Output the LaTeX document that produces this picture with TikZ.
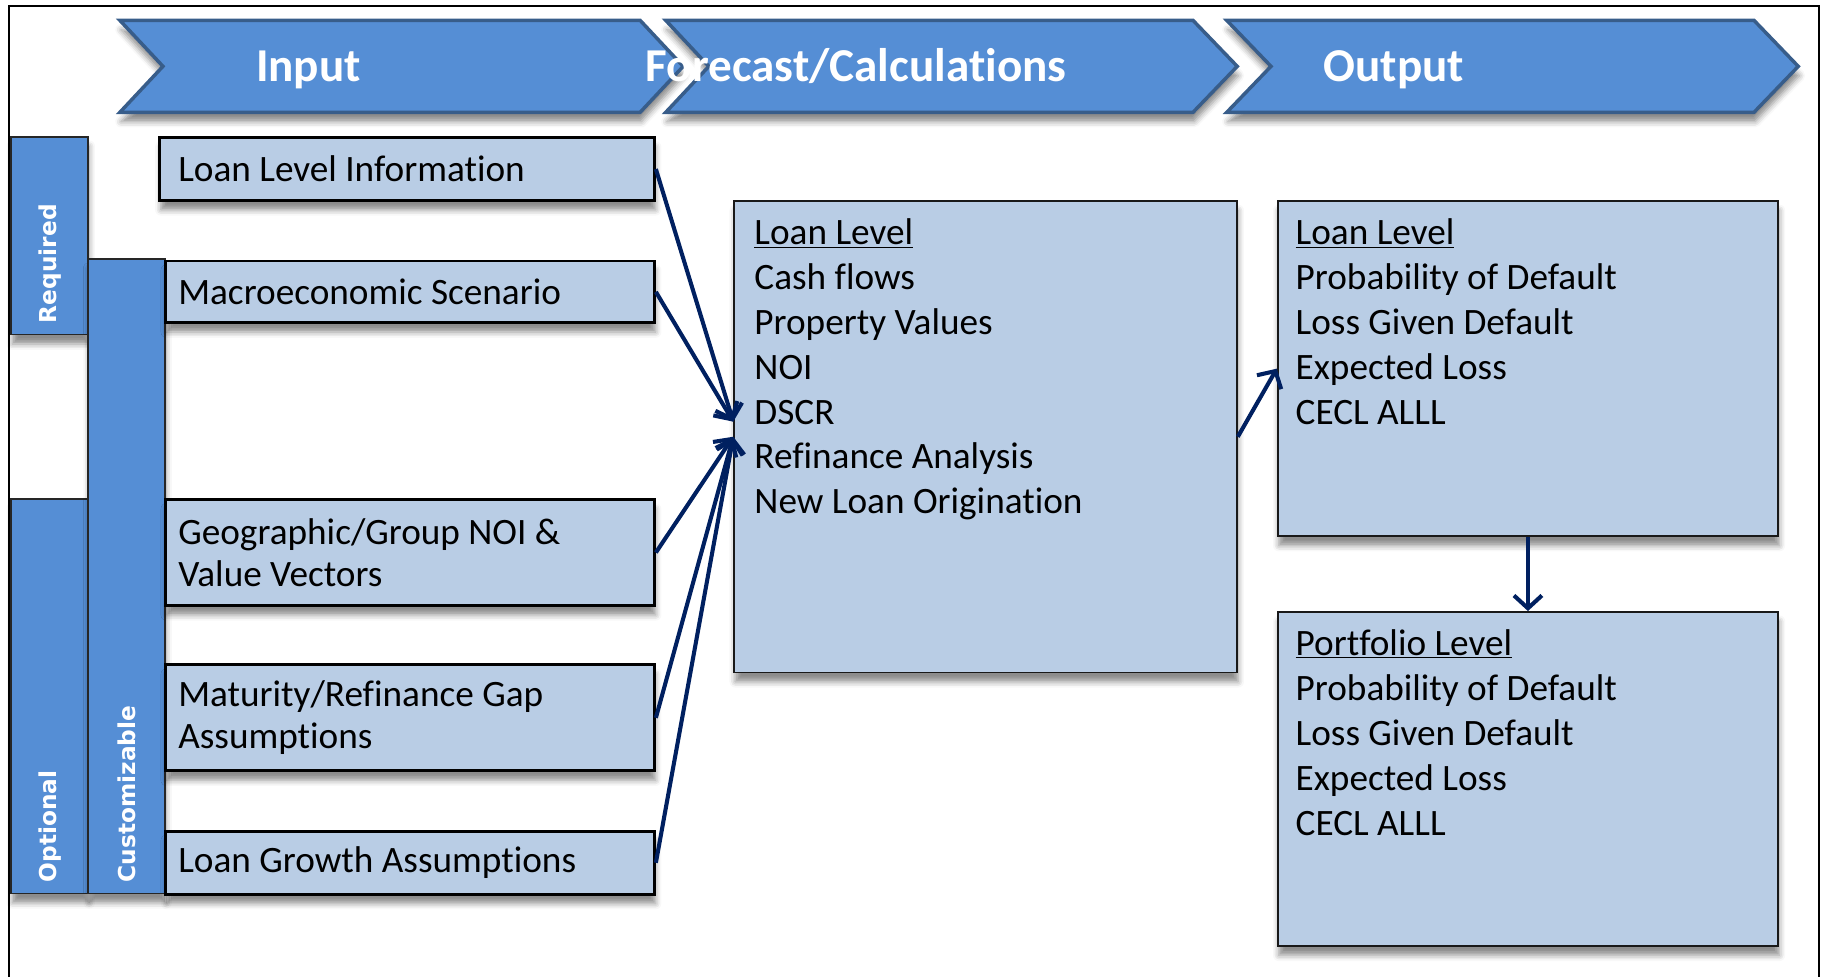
\documentclass[tikz,border=0pt]{standalone}
\usepackage{fontspec}
\setmainfont{Carlito}[Ligatures={NoCommon}]
\newfontfamily\labelfont{DejaVu Sans}
\usetikzlibrary{arrows.meta,shadows.blur,calc}
\definecolor{chevfill}{RGB}{85,142,213}
\definecolor{chevline}{RGB}{56,93,138}
\definecolor{boxfill}{RGB}{185,205,229}
\definecolor{navy}{RGB}{0,32,96}

\begin{document}
\begin{tikzpicture}[x=1pt,y=-1pt,
  softshadow/.style={blur shadow={shadow xshift=1pt,shadow yshift=-8pt,
      shadow blur radius=5pt,shadow opacity=45}},
  chevron/.style={fill=chevfill,draw=chevline,line width=3pt,line join=miter,softshadow},
  title/.style={text=white,inner sep=0pt,anchor=base,
      font=\bfseries\fontsize{40.5}{44}\selectfont},
  sidebar/.style={rectangle,draw=black!85,line width=1.2pt,fill=chevfill,
      inner sep=0pt,anchor=north west,softshadow},
  sidetext/.style={rotate=90,text=white,inner sep=0pt,
      font=\labelfont\bfseries\fontsize{20}{22}\selectfont},
  inbox/.style={rectangle,draw=black,line width=2.5pt,fill=boxfill,
      inner sep=0pt,anchor=north west,softshadow},
  bigbox/.style={rectangle,draw=black!90,line width=1.5pt,fill=boxfill,
      inner sep=0pt,anchor=north west,softshadow},
  intext/.style={anchor=west,align=left,inner sep=0pt,
      font=\fontsize{32}{36}\selectfont},
  bigtext/.style={anchor=north west,align=left,inner sep=0pt,
      font=\fontsize{32}{38.5}\selectfont},
  flow/.style={draw=navy,line width=3.5pt,
      -{Straight Barb[length=11pt,width=24pt]}}
]
\useasboundingbox (0,0) rectangle (1568,839);

% outer frame (open at the bottom edge of the page)
\draw[line width=1.8pt] (8,839) -- (8,5) -- (1563,5) -- (1563,839);

% stage chevrons
\path[chevron] (103,17.5) -- (550,17.5) -- (587,57) -- (550,96.5) -- (103,96.5) -- (140,57) -- cycle;
\path[chevron] (572,17.5) -- (1025,17.5) -- (1063,57) -- (1025,96.5) -- (572,96.5) -- (609,57) -- cycle;
\path[chevron] (1054,17.5) -- (1507,17.5) -- (1545,57) -- (1507,96.5) -- (1054,96.5) -- (1092,57) -- cycle;

% side category bars
\node[sidebar,minimum width=66pt,minimum height=170pt] (req) at (9,117) {};
\node[sidebar,minimum width=66pt,minimum height=339pt] (opt) at (9,428) {};
\node[sidebar,minimum width=66pt,minimum height=545pt] (cust) at (75,222) {};

% input boxes
\node[inbox,minimum width=425pt,minimum height=54pt] (loaninfo) at (136,117) {};
\node[inbox,minimum width=420pt,minimum height=53pt] (macro) at (141,223) {};
\node[inbox,minimum width=420pt,minimum height=91pt] (geo) at (141,428) {};
\node[inbox,minimum width=420pt,minimum height=91pt] (matur) at (141,570) {};
\node[inbox,minimum width=420pt,minimum height=54pt] (growth) at (141,713) {};

% calculation and output boxes
\node[bigbox,minimum width=432pt,minimum height=405pt] (calc) at (630,172) {};
\node[bigbox,minimum width=430pt,minimum height=288pt] (outloan) at (1097,172) {};
\node[bigbox,minimum width=430pt,minimum height=287pt] (outport) at (1097,525) {};

% connectors
\coordinate (calcup) at ($(calc.west)+(0,-13)$);
\draw[flow] (loaninfo.east) -- (calcup);
\draw[flow] (macro.east) -- (calcup);
\draw[flow] (geo.east) -- (calc.west);
\draw[flow] (matur.east) -- (calc.west);
\draw[flow] (growth.east) -- (calc.west);
\draw[flow] (calc.east) -- (outloan.west);
\draw[flow] (outloan.south) -- (outport.north);

% titles
\node[title] (tin) at (265,70) {Input};
\node[title] (tcalc) at (735.5,70) {Forecast/Calculations};
\node[title] (tout) at (1197.5,70) {Output};

% side labels
\node[sidetext,anchor=center] (lreq) at ($(req.center)+(0,24)$) {Required};
\node[sidetext,anchor=west] (lopt) at ($(opt.south)+(0,-10)$) {Optional};
\node[sidetext,anchor=west] (lcust) at ($(cust.south)+(0,-10)$) {Customizable};

% input texts
\node[intext] (xloaninfo) at ($(loaninfo.west)+(17,0)$) {Loan Level Information};
\node[intext] (xmacro) at ($(macro.west)+(12,0)$) {Macroeconomic Scenario};
\node[intext] (xgeo) at ($(geo.west)+(12,0)$) {Geographic/Group NOI \&\\Value Vectors};
\node[intext] (xmatur) at ($(matur.west)+(12,0)$) {Maturity/Refinance Gap\\Assumptions};
\node[intext] (xgrowth) at ($(growth.west)+(12,0)$) {Loan Growth Assumptions};

% box contents
\node[bigtext] (xcalc) at ($(calc.north west)+(18,16)$)
  {\underline{Loan Level}\\Cash flows\\Property Values\\NOI\\DSCR\\Refinance Analysis\\New Loan Origination};
\node[bigtext] (xoutloan) at ($(outloan.north west)+(16,16)$)
  {\underline{Loan Level}\\Probability of Default\\Loss Given Default\\Expected Loss\\CECL ALLL};
\node[bigtext] (xoutport) at ($(outport.north west)+(16,16)$)
  {\underline{Portfolio Level}\\Probability of Default\\Loss Given Default\\Expected Loss\\CECL ALLL};
\end{tikzpicture}
\end{document}
